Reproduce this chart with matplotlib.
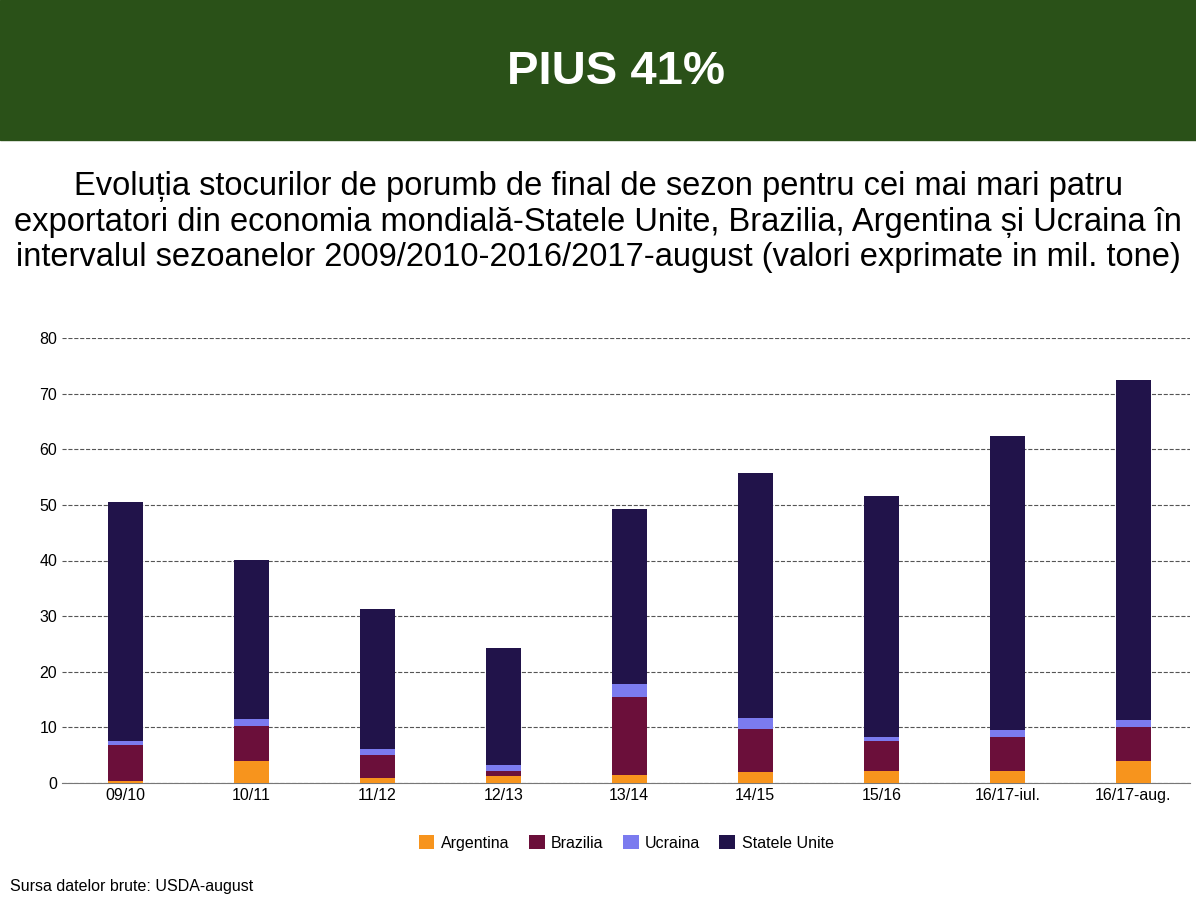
import numpy as np
import matplotlib.pyplot as plt
from matplotlib.patches import Rectangle

plt.rcParams['font.family'] = ['Liberation Sans', 'DejaVu Sans']

seasons = ["09/10", "10/11", "11/12", "12/13", "13/14", "14/15", "15/16", "16/17-iul.", "16/17-aug."]
argentina = [0.3, 4.0, 0.9, 1.3, 1.4, 2.0, 2.2, 2.2, 4.0]
brazilia = [6.5, 6.2, 4.1, 0.9, 14.1, 7.7, 5.3, 6.1, 6.1]
ucraina = [0.7, 1.3, 1.1, 1.0, 2.3, 2.0, 0.8, 1.2, 1.2]
sua = [43.0, 28.6, 25.2, 21.1, 31.5, 44.0, 43.3, 52.9, 61.1]

fig = plt.figure(figsize=(11.96, 9.18), dpi=100)
fig.patches.append(Rectangle((0, 1 - 140 / 918), 1, 140 / 918, transform=fig.transFigure,
                             color='#2a5118', zorder=0))
hdr = fig.text(0.515, 1 - 72 / 918, "PIUS 41%", color='white', fontsize=34, fontweight='bold',
               ha='center', va='center', family=['Liberation Sans Narrow', 'Liberation Sans'])
fig.text(0.5, 1 - 222 / 918,
         "Evoluția stocurilor de porumb de final de sezon pentru cei mai mari patru\n"
         "exportatori din economia mondială-Statele Unite, Brazilia, Argentina și Ucraina în\n"
         "intervalul sezoanelor 2009/2010-2016/2017-august (valori exprimate in mil. tone)",
         ha='center', va='center', fontsize=23.5, linespacing=1.2)

ax = fig.add_axes([0.052, 1 - 783 / 918, 0.943, 445 / 918])
x = np.arange(len(seasons))
w = 0.28
a = np.array(argentina); b = np.array(brazilia); u = np.array(ucraina); s = np.array(sua)
ax.bar(x, a, w, color='#f7941d', label='Argentina', zorder=3)
ax.bar(x, b, w, bottom=a, color='#6b0f3a', label='Brazilia', zorder=3)
ax.bar(x, u, w, bottom=a + b, color='#7b7bef', label='Ucraina', zorder=3)
ax.bar(x, s, w, bottom=a + b + u, color='#21134a', label='Statele Unite', zorder=3)

ax.set_ylim(0, 80)
ax.set_xlim(-0.5, 8.45)
ax.set_yticks(range(0, 81, 10))
ax.set_xticks(x)
ax.set_xticklabels(seasons)
ax.tick_params(length=0, labelsize=11.5)
ax.yaxis.grid(True, linestyle='--', color='#555555', linewidth=0.8, zorder=0)
for sp in ['top', 'right', 'left']:
    ax.spines[sp].set_visible(False)
ax.spines['bottom'].set_color('#777777')

ax.legend(loc='upper center', bbox_to_anchor=(0.5, -0.085), ncol=4, frameon=False,
          fontsize=11.5, handlelength=1.0, handleheight=1.0, columnspacing=1.2, handletextpad=0.4)
fig.text(0.008, 1 - 886 / 918, "Sursa datelor brute: USDA-august", fontsize=11.5, va='center')

fig.savefig('out.png', dpi=100)
